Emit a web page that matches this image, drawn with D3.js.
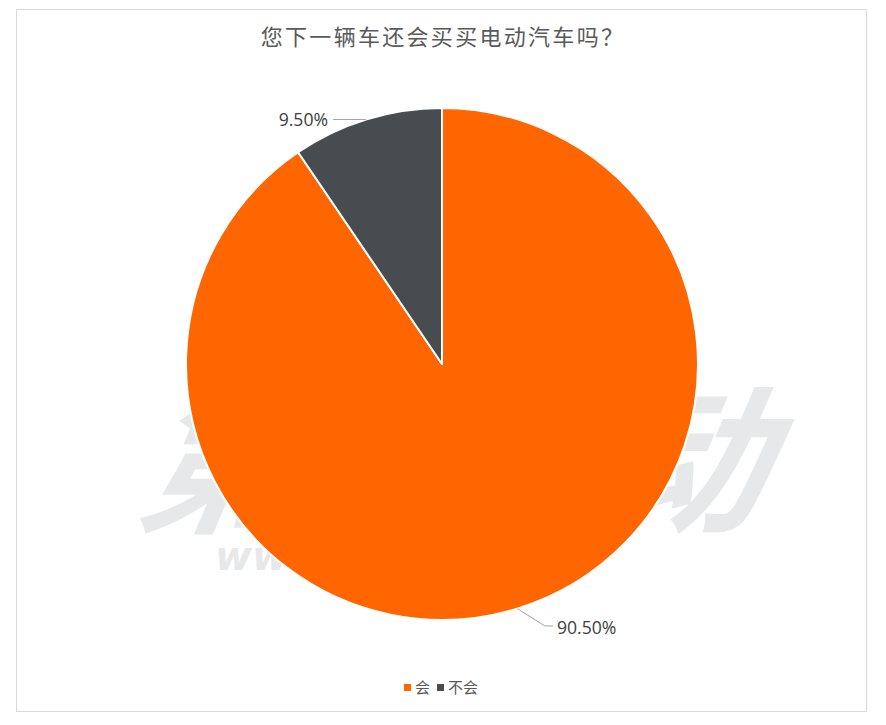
<!DOCTYPE html>
<html><head><meta charset="utf-8">
<script src="https://cdn.jsdelivr.net/npm/d3@7"></script>
<style>
html,body{margin:0;padding:0;background:#fff;}
svg{display:block;}
</style></head>
<body>
<svg id="chart" width="886" height="725"></svg>
<script>
const titleText = "您下一辆车还会买买电动汽车吗？";
const categories = ["会", "不会"];
const values = [90.5, 9.5];
const labels = ["90.50%", "9.50%"];
const colors = ["#FF6600", "#474C50"];

const svg = d3.select("#chart");
const W = 886, H = 725;
const cx = 442, cy = 364, R = 256;
const cjk = "'Noto Sans CJK SC','Noto Sans',sans-serif";

// frame
svg.append("rect").attr("x", 16.5).attr("y", 9.5).attr("width", 850).attr("height", 702)
  .attr("fill", "#fff").attr("stroke", "#D9D9D9").attr("stroke-width", 1);

// watermark (behind pie)
const wm = svg.append("g").attr("fill", "#E7E8EA");
wm.append("text").attr("x", 445).attr("y", 520).attr("text-anchor", "middle")
  .attr("font-family", cjk).attr("font-weight", "bold").attr("font-style", "italic")
  .attr("font-size", 160).attr("letter-spacing", -4)
  .attr("transform", "skewX(-10) translate(90,0)")
  .text("第一电动");
wm.append("text").attr("x", 215).attr("y", 570)
  .attr("font-family", "'DejaVu Sans',sans-serif").attr("font-weight", "bold").attr("font-style", "italic")
  .attr("font-size", 40).text("www.d1ev.com");

// title
svg.append("text").attr("x", cx + 1).attr("y", 45).attr("text-anchor", "middle")
  .attr("font-family", cjk).attr("font-size", 22).attr("letter-spacing", 2.3)
  .attr("fill", "#595959").text(titleText);

// pie
const data = categories.map((c, i) => ({cat: c, value: values[i], label: labels[i], color: colors[i]}));
const pie = d3.pie().value(d => d.value).sort(null);
const arcs = pie(data);
const arc = d3.arc().innerRadius(0).outerRadius(R);
const g = svg.append("g").attr("transform", `translate(${cx},${cy})`);
g.selectAll("path").data(arcs).join("path")
  .attr("d", arc).attr("fill", d => d.data.color)
  .attr("stroke", "#fff").attr("stroke-width", 2).attr("stroke-linejoin", "round");

// labels with leader lines
const lbl = svg.append("g").attr("font-family", "'Open Sans','Noto Sans',sans-serif")
  .attr("font-size", 17.6).attr("fill", "#404040");
// 90.50%
(function(){
  const a = arcs[0];
  const mid = (a.startAngle + a.endAngle) / 2;
  const p0 = [cx + Math.sin(mid) * R, cy - Math.cos(mid) * R];
  const p1 = [545, 626];
  const p2 = [553, 626];
  svg.append("polyline").attr("points", [p0, p1, p2].map(p => p.join(",")).join(" "))
    .attr("fill", "none").attr("stroke", "#A6A6A6").attr("stroke-width", 1);
  lbl.append("text").attr("x", 557).attr("y", 634).text(a.data.label);
})();
// 9.50%
(function(){
  const a = arcs[1];
  const y = 119.5;
  const xEdge = cx - Math.sqrt(R * R - (cy - y) * (cy - y));
  svg.append("line").attr("x1", 333).attr("y1", y).attr("x2", xEdge).attr("y2", y)
    .attr("stroke", "#A6A6A6").attr("stroke-width", 1);
  lbl.append("text").attr("x", 328).attr("y", 126).attr("text-anchor", "end").text(a.data.label);
})();

// legend
const leg = svg.append("g").attr("font-family", cjk).attr("font-size", 15).attr("fill", "#595959");
const legX = [404, 437];
data.forEach((d, i) => {
  leg.append("rect").attr("x", legX[i]).attr("y", 684).attr("width", 7).attr("height", 7).attr("fill", d.color);
  leg.append("text").attr("x", legX[i] + 11).attr("y", 693).text(d.cat);
});
</script>
</body></html>
